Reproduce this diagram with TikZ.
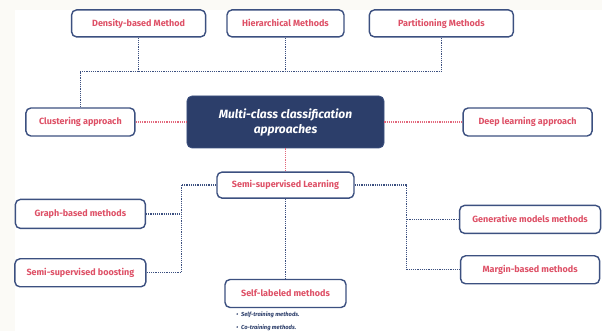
\documentclass[tikz,border=0pt]{standalone}
\usepackage{fontspec}
\setmainfont{Fira Sans}
\usepackage{xcolor}
\usepackage{tikz}
\usetikzlibrary{positioning}
\definecolor{navyfill}{RGB}{44, 62, 106}
\definecolor{navyline}{RGB}{60, 80, 128}
\definecolor{labelred}{RGB}{222, 80, 102}
\definecolor{dotred}{RGB}{226, 104, 124}
\definecolor{pagebg}{RGB}{251, 250, 246}

\begin{document}
\begin{tikzpicture}[
        box/.style={draw=navyline, fill=white, line width=1.4pt, rounded corners=5pt,
                    minimum height=27pt, inner sep=2pt, text=labelred,
                    font=\fontsize{9}{10}\selectfont\bfseries, align=center},
        hub/.style={draw=navyline, fill=navyfill, rounded corners=5pt, line width=0.8pt,
                    minimum width=197pt, minimum height=52pt, text=white,
                    font=\fontsize{12}{15}\selectfont\bfseries\itshape, align=center},
        navydot/.style={draw=navyline, line width=1.3pt, dash pattern=on 1.2pt off 1pt},
        reddot/.style={draw=dotred, line width=1.1pt, dash pattern=on 1.2pt off 1pt}
      ]
        % page and margins
        \fill[pagebg] (-285.5pt,122pt) rectangle (316.5pt,-209pt);
        \fill[white] (-270.5pt,112pt) rectangle (316.5pt,-209pt);
        \useasboundingbox (-285.5pt,122pt) rectangle (316.5pt,-209pt);

        \node[hub] (main) at (0,0) {Multi-class classification\\approaches};
        \node[box, above=58pt of main, minimum width=117pt] (hier) {Hierarchical Methods};
        \node[box, left=20pt of hier, minimum width=134pt] (dens) {Density-based Method};
        \node[box, right=24pt of hier, minimum width=144pt] (part) {Partitioning Methods};
        \node[box, left=51pt of main, minimum width=109pt, minimum height=28pt] (clust) {Clustering approach};
        \node[box, right=78pt of main, minimum width=129pt, minimum height=28pt] (deep) {Deep learning approach};
        \node[box, below=23pt of main, minimum width=137pt, minimum height=26pt] (semi) {Semi-supervised Learning};
        \node[box, below=80pt of semi, minimum width=121pt, minimum height=28pt] (self) {Self-labeled methods};
        \node[box, below=62pt of clust, minimum width=130pt, minimum height=29pt] (graph) {Graph-based methods};
        \node[box, below=29pt of graph, minimum width=131pt, minimum height=28pt] (boost) {Semi-supervised boosting};
        \node[box, below=68pt of deep, xshift=2.5pt, minimum width=141pt, minimum height=28pt] (gen) {Generative models methods};
        \node[box, below=21pt of gen, minimum width=139pt, minimum height=28pt] (marg) {Margin-based methods};
        \node[below right=3pt and 12pt of self.south west, anchor=north west, align=left,
              text=navyfill, font=\fontsize{5.8}{13}\selectfont\bfseries\itshape, inner sep=0pt]
              (selflist) {\textbullet\ \ Self-training methods.\\\textbullet\ \ Co-training methods.};

        \coordinate[below=34pt of hier.south] (topbus);
        \coordinate[left=35pt of semi.west] (lbus);
        \coordinate[right=52pt of semi.east] (rbus);

        \draw[navydot] (clust.north) |- (topbus -| part.south) -- (part.south);
        \draw[navydot] (dens.south) -- (dens.south |- topbus);
        \draw[navydot] (hier.south) -- (topbus);
        \draw[reddot] (clust) -- (main);
        \draw[reddot] (main) -- (deep);
        \draw[reddot] (main) -- (semi);
        \draw[navydot] (semi.west) -- (lbus) |- (boost.east);
        \draw[navydot] (graph.east) -- (graph.east -| lbus);
        \draw[navydot] (semi.east) -- (rbus) |- (marg.west);
        \draw[navydot] (gen.west) -- (gen.west -| rbus);
        \draw[navydot] (semi) -- (self);
      \end{tikzpicture}
\end{document}
